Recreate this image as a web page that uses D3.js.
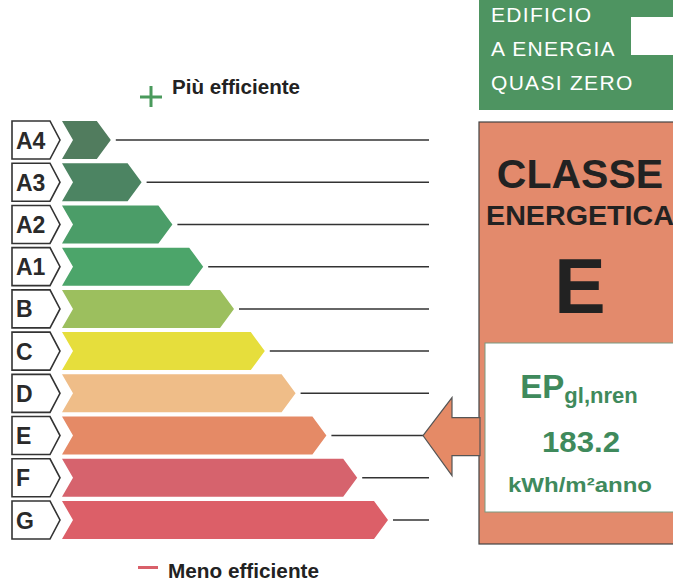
<!DOCTYPE html>
<html><head><meta charset="utf-8">
<script src="https://cdn.jsdelivr.net/npm/d3@7"></script>
<style>
html,body{margin:0;padding:0;background:#fff;}
svg{display:block;font-family:"Liberation Sans",Arial,sans-serif;}
</style></head>
<body>
<script>
const classes = ["A4","A3","A2","A1","B","C","D","E","F","G"];
const barSteps = [1,2,3,4,5,6,7,8,9,10];
const barColors = ["#517c5e","#4c8462","#4b9d68","#4ca56a","#9cbf5e","#e6de3c","#efbd88","#e58a66","#d6636d","#dc5f68"];
const currentClass = "E";
const epValue = "183.2";
const epUnit = "kWh/m²anno";
const nzebLines = ["EDIFICIO","A ENERGIA","QUASI ZERO"];
const topLabel = "Più efficiente";
const bottomLabel = "Meno efficiente";

const W = 673, H = 581;
const svg = d3.select("body").append("svg").attr("width", W).attr("height", H);

const y = d3.scaleBand().domain(classes).range([121, 539]).paddingInner(0.1);
const x = d3.scaleLinear().domain([0, 10]).range([80, 388]);
const bw = y.bandwidth();
const barLeft = 62, notch = 11, tipDepth = 14, lineEnd = 429;

const rows = svg.append("g").selectAll("g").data(classes).join("g")
  .attr("transform", d => `translate(0,${y(d)})`);

// label boxes
rows.append("path")
  .attr("d", `M12,0 H50 L60,${bw/2} L50,${bw} H12 Z`)
  .attr("fill", "#fff").attr("stroke", "#333").attr("stroke-width", 1.6);
rows.append("text")
  .attr("x", 16).attr("y", bw/2 + 8.5)
  .attr("font-size", 23).attr("font-weight", "bold").attr("fill", "#2a2a2a")
  .text(d => d);

// bars
rows.append("path")
  .attr("d", (d, i) => {
    const t = x(barSteps[i]);
    return `M${barLeft},0 H${t - tipDepth} L${t},${bw/2} L${t - tipDepth},${bw} H${barLeft} L${barLeft + notch},${bw/2} Z`;
  })
  .attr("fill", (d, i) => barColors[i]);

// guide lines
rows.append("line")
  .attr("x1", (d, i) => x(barSteps[i]) + 5)
  .attr("x2", d => d === currentClass ? 423 : lineEnd)
  .attr("y1", bw/2).attr("y2", bw/2)
  .attr("stroke", "#333").attr("stroke-width", 1.5);

// efficiency labels
svg.append("rect").attr("x", 140).attr("y", 95.5).attr("width", 22).attr("height", 3).attr("fill", "#4a9a5c");
svg.append("rect").attr("x", 149.5).attr("y", 86).attr("width", 3).attr("height", 21).attr("fill", "#4a9a5c");
svg.append("text").attr("x", 172).attr("y", 94).attr("font-size", 20).attr("font-weight", "bold").attr("fill", "#222")
  .attr("textLength", 128).attr("lengthAdjust", "spacingAndGlyphs").text(topLabel);
svg.append("rect").attr("x", 138).attr("y", 566).attr("width", 20).attr("height", 3).attr("fill", "#d9606a");
svg.append("text").attr("x", 168).attr("y", 578).attr("font-size", 20).attr("font-weight", "bold").attr("fill", "#222")
  .attr("textLength", 151).attr("lengthAdjust", "spacingAndGlyphs").text(bottomLabel);

// NZEB box
svg.append("rect").attr("x", 479).attr("y", -5).attr("width", 210).attr("height", 115).attr("fill", "#4e9461");
svg.append("rect").attr("x", 631).attr("y", 17).attr("width", 50).attr("height", 38).attr("fill", "#fff");
svg.append("g").selectAll("text").data(nzebLines).join("text")
  .attr("x", 491).attr("y", (d, i) => 22 + i * 34)
  .attr("font-size", 21).attr("letter-spacing", 1.3).attr("fill", "#fff")
  .text(d => d);

// class panel
const ci = classes.indexOf(currentClass);
const panelColor = barColors[ci];
svg.append("rect").attr("x", 479).attr("y", 122).attr("width", 210).attr("height", 422)
  .attr("fill", "#e38a6c").attr("stroke", "#444").attr("stroke-width", 1.2);
svg.append("text").attr("x", 580).attr("y", 188).attr("text-anchor", "middle")
  .attr("font-size", 41).attr("font-weight", "bold").attr("fill", "#222").text("CLASSE");
svg.append("text").attr("x", 580).attr("y", 225).attr("text-anchor", "middle")
  .attr("font-size", 28).attr("font-weight", "bold").attr("fill", "#222")
  .attr("textLength", 188).attr("lengthAdjust", "spacingAndGlyphs").text("ENERGETICA");
svg.append("text").attr("x", 580).attr("y", 313).attr("text-anchor", "middle")
  .attr("font-size", 77).attr("font-weight", "bold").attr("fill", "#222").text(currentClass);

// inner white box
svg.append("rect").attr("x", 485).attr("y", 343).attr("width", 200).attr("height", 169)
  .attr("fill", "#fff").attr("stroke", "#7a9a80").attr("stroke-width", 1);
const ep = svg.append("text").attr("x", 579).attr("y", 398).attr("text-anchor", "middle")
  .attr("font-weight", "bold").attr("fill", "#3f8a5c");
ep.append("tspan").attr("font-size", 33).text("EP");
ep.append("tspan").attr("font-size", 22).attr("dy", 5).text("gl,nren");
svg.append("text").attr("x", 581).attr("y", 452).attr("text-anchor", "middle")
  .attr("font-size", 30).attr("font-weight", "bold").attr("fill", "#3f8a5c")
  .attr("textLength", 78).attr("lengthAdjust", "spacingAndGlyphs").text(epValue);
svg.append("text").attr("x", 580).attr("y", 492).attr("text-anchor", "middle")
  .attr("font-size", 21).attr("font-weight", "bold").attr("fill", "#3f8a5c")
  .attr("textLength", 144).attr("lengthAdjust", "spacingAndGlyphs").text(epUnit);

// pointer arrow
const ay = y(currentClass) + bw / 2;
svg.append("path")
  .attr("d", `M423,${ay} L452,${ay - 38} V${ay - 18} H480 V${ay + 20} H452 V${ay + 40} Z`)
  .attr("fill", panelColor).attr("stroke", "#555").attr("stroke-width", 1.2);
</script>
</body></html>
